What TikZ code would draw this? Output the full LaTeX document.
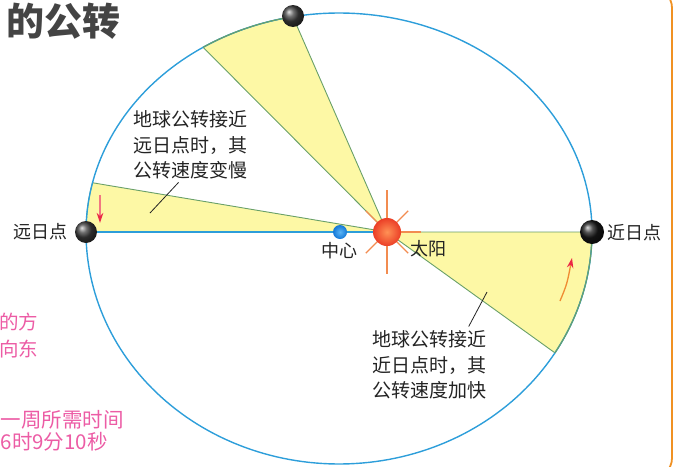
\documentclass[tikz,border=0pt]{standalone}
\usepackage{fontspec}
\setmainfont{Noto Sans CJK SC}
\usetikzlibrary{arrows.meta}

\definecolor{orbitblue}{RGB}{45,158,218}
\definecolor{sectorfill}{RGB}{253,248,165}
\definecolor{sectoredge}{RGB}{105,160,105}
\definecolor{notepink}{RGB}{236,92,165}
\definecolor{frameorange}{RGB}{240,145,35}
\definecolor{suninner}{RGB}{255,145,85}
\definecolor{sunouter}{RGB}{235,62,38}
\definecolor{sunray}{RGB}{242,140,80}
\definecolor{inkgray}{RGB}{35,35,35}
\definecolor{slowshaft}{RGB}{242,120,130}
\definecolor{fastshaft}{RGB}{240,140,50}
\definecolor{tipred}{RGB}{235,40,70}
\definecolor{dotinner}{RGB}{90,180,245}
\definecolor{dotouter}{RGB}{20,120,215}

\begin{document}
\begin{tikzpicture}[x=1pt,y=-1pt,
  orbit/.style={draw=orbitblue,line width=1.4},
  sector/.style={fill=sectorfill,draw=sectoredge,line width=0.9},
  axisline/.style={draw=orbitblue,line width=1.2},
  ray/.style={draw=sunray,line width=1.3},
  sunball/.style={circle,inner sep=0,minimum size=28,inner color=suninner,outer color=sunouter},
  planet/.style={circle,inner sep=0,minimum size=22,ball color=black!75},
  centerdot/.style={circle,inner sep=0,minimum size=14,inner color=dotinner,outer color=dotouter},
  lbl/.style={font=\fontsize{18}{20}\selectfont,text=inkgray,inner sep=0},
  note/.style={font=\fontsize{19}{25.5}\selectfont,text=inkgray,align=left,inner sep=0},
  pinknote/.style={font=\fontsize{19.5}{22}\selectfont,text=notepink,inner sep=0,anchor=west},
  heading/.style={font=\fontsize{38}{40}\selectfont\bfseries,text=inkgray!85,inner sep=0,anchor=west},
  leader/.style={draw=inkgray,line width=0.8},
  motion/.style={line width=1.3,arrows={-Stealth[length=10,width=6.5,color=tipred]}},
  frame/.style={draw=frameorange,line width=1.8,rounded corners=20}
]
\useasboundingbox (0,0) rectangle (680,466);

% swept areas: focus to an arc of the orbit
\path[sector] (387,232) -- plot[domain=237.5:259.5,variable=\t,samples=30]
  ({339+253*cos(\t)},{232+219*sin(\t)}) -- cycle;
\path[sector] (387,232) -- plot[domain=180:193,variable=\t,samples=20]
  ({339+253*cos(\t)},{232+219*sin(\t)}) -- cycle;
\path[sector] (387,232) -- plot[domain=0:31.4,variable=\t,samples=30]
  ({339+253*cos(\t)},{232+232*sin(\t)}) -- cycle;

% orbit: upper and lower halves
\draw[orbit] plot[domain=180:360,variable=\t,samples=120]
  ({339+253*cos(\t)},{232+219*sin(\t)});
\draw[orbit] plot[domain=0:180,variable=\t,samples=120]
  ({339+253*cos(\t)},{232+232*sin(\t)});
% arcs of the swept areas on the orbit
\draw[sectoredge,line width=1.1] plot[domain=237.5:259.5,variable=\t,samples=30]
  ({339+253*cos(\t)},{232+219*sin(\t)});
\draw[sectoredge,line width=1.1] plot[domain=0:31.4,variable=\t,samples=30]
  ({339+253*cos(\t)},{232+232*sin(\t)});

% bodies
\node[planet] (aph) at (86,232) {};
\node[planet,minimum size=24,ball color=black!90] (peri) at (592,232) {};
\node[planet] (topp) at (293,16) {};
\node[centerdot] (ctr) at (340,232) {};

\draw[axisline] (aph) -- (ctr);

% sun rays and sun
\foreach \a/\l in {0/34,45/30,90/42,135/30,180/34,225/30,270/42,315/30}
  \draw[ray] (387,232) ++(\a:14) -- ++(\a:{\l-14});
\node[sunball] (sun) at (387,232) {};
\draw[axisline] (ctr) -- (sun);

% direction of motion
\coordinate (slowfrom) at (100,195);
\coordinate (slowto) at (100,223);
\draw[motion,draw=slowshaft] (slowfrom) -- (slowto);
\coordinate (fastfrom) at (560,301);
\coordinate (fastto) at (572,258);
\draw[motion,draw=fastshaft] (fastfrom) .. controls (567,284) .. (fastto);

% labels
\node[lbl] (aphlabel) at (40,232) {远日点};
\node[lbl] (perilabel) at (634,233) {近日点};
\node[lbl] (ctrlabel) at (339,251) {中心};
\node[lbl] (sunlabel) at (428,249) {太阳};

\node[note] (slow) at (190.5,145) {地球公转接近\\远日点时，其\\公转速度变慢};
\coordinate (slowtip) at (150,213);
\draw[leader] (slow.south) ++(-12,3) -- (slowtip);

\node[note] (fast) at (429.5,365) {地球公转接近\\近日点时，其\\公转速度加快};
\coordinate (fasttip) at (487,292);
\draw[leader] (fast.north east) ++(-18,-4) -- (fasttip);

% page furniture
\node[heading] (ttl) at (6,21) {的公转};
\node[pinknote] (dirA) at (-1,322) {的方};
\node[pinknote] (dirB) at (-1,349) {向东};
\node[pinknote,font=\fontsize{20.5}{22}\selectfont] (periodA) at (0.5,420) {一周所需时间};
\node[pinknote,font=\fontsize{20.5}{22}\selectfont] (periodB) at (0.5,442) {6时9分10秒};
\draw[frame] (640,-12) -- (672,-12) -- (672,478) -- (640,478);
\end{tikzpicture}
\end{document}
